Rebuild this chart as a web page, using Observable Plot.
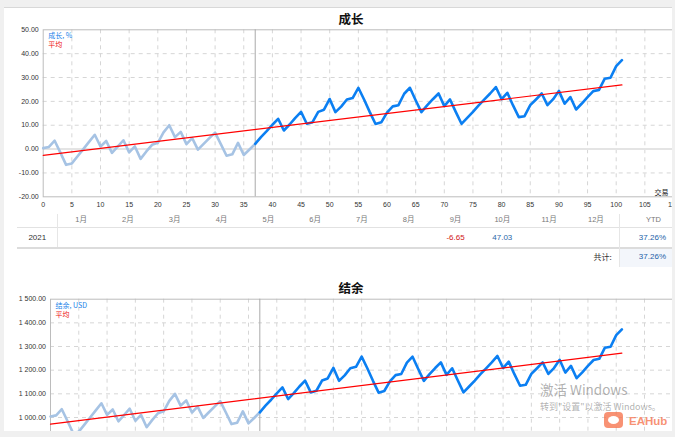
<!DOCTYPE html>
<html><head><meta charset="utf-8">
<script src="https://cdn.jsdelivr.net/npm/d3@7"></script>
<script src="https://cdn.jsdelivr.net/npm/@observablehq/plot@0.6"></script>
<style>
html,body{margin:0;padding:0;background:#f0f0f0;width:675px;height:437px;overflow:hidden;font-family:"Liberation Sans","Noto Sans CJK SC",sans-serif;}
#topline{position:absolute;left:4px;top:7px;width:668px;height:1px;background:#d8d8d8}
#panel{position:absolute;left:4px;top:8px;width:668px;height:423px;background:#fff;overflow:hidden}
#inner{position:absolute;left:-4px;top:-8px;width:680px;height:440px}
#overlay{position:absolute;left:0;top:0;width:675px;height:437px}
.t{position:absolute;white-space:nowrap;line-height:1}
.bx{position:absolute}
.hl{position:absolute;height:1px;background:#e2e2e2}
.vl{position:absolute;width:1px;background:#e6e6e6}
svg{position:absolute;left:0}
</style></head>
<body>
<div id="topline"></div>
<div id="panel"><div id="inner"></div></div>
<div id="overlay"></div>
<script>
// ---------- data ----------
const growth = [0.4,0.9,3.5,-1.5,-6.6,-6.0,-3.0,0.0,3.0,6.0,
  1.1,3.4,-1.6,1.0,3.7,-1.4,1.1,-4.1,-1.0,1.8,
  2.6,7.0,10.0,5.0,7.2,2.1,4.6,-0.2,2.2,4.6,
  6.9,2.1,-2.8,-2.2,2.6,-2.5,-0.2,2.2,5.0,7.5,
  10.2,12.7,7.8,10.3,13.1,15.6,10.6,11.3,15.6,16.5,
  21.0,15.5,17.8,20.8,21.4,25.7,20.8,15.5,10.5,11.2,
  15.3,17.9,18.4,23.2,25.7,20.5,15.5,18.3,20.9,23.3,
  18.0,20.8,15.6,10.6,13.1,15.6,18.3,20.8,23.3,26.0,
  20.9,23.6,18.3,13.4,13.8,18.4,20.8,23.3,18.4,20.9,
  24.4,19.0,21.8,16.6,19.1,21.8,24.3,24.8,29.5,29.9,
  34.8,37.26];
const balance = [1004,1009,1035,985,934,940,970,1000,1030,1060,
  1011,1034,984,1010,1037,986,1011,959,990,1018,
  1026,1070,1100,1050,1072,1021,1046,998,1022,1046,
  1069,1021,972,978,1026,975,998,1022,1050,1075,
  1102,1127,1078,1103,1131,1156,1106,1113,1156,1165,
  1210,1155,1178,1208,1214,1257,1208,1155,1105,1112,
  1153,1179,1184,1232,1257,1205,1155,1183,1209,1233,
  1180,1208,1156,1106,1131,1156,1183,1208,1233,1260,
  1209,1236,1183,1134,1138,1184,1208,1233,1184,1209,
  1244,1190,1218,1166,1191,1218,1243,1248,1295,1299,
  1348,1372.6];
const splitTrade = 37;                 // history / recent boundary
const avgX = [0, 101];
const growthAvg = [-2.6, 26.9];
const balanceAvg = [972, 1272];
const xTicks = [0,5,10,15,20,25,30,35,40,45,50,55,60,65,70,75,80,85,90,95,100,105,110];
const growthTicks = [-20,-10,0,10,20,30,40,50];
const balanceTicks = [1000,1100,1200,1300,1400,1500];   // labels visible in the picture
const balanceGrid = [900,1000,1100,1200,1300,1400];
const months = ["1月","2月","3月","4月","5月","6月","7月","8月","9月","10月","11月","12月"];
const year = "2021";
const monthValues = [null,null,null,null,null,null,null,null,-6.65,47.03,null,null];
const ytdLabel = "YTD";
const ytdValue = "37.26%";
const totalLabel = "共计:";
const totalValue = "37.26%";

// ---------- helpers ----------
const inner = document.getElementById("inner");
const overlay = document.getElementById("overlay");
function txt(s, x, y, css, align, parent) {
  const d = document.createElement("div");
  d.className = "t";
  d.textContent = s;
  d.style.left = x + "px"; d.style.top = y + "px";
  const tx = align === "right" ? "-100%" : align === "left" ? "0" : "-50%";
  d.style.transform = `translate(${tx},-50%)`;
  Object.assign(d.style, css || {});
  (parent || inner).appendChild(d);
  return d;
}
function box(cls, x, y, w, h, bg) {
  const d = document.createElement("div");
  d.className = cls;
  Object.assign(d.style, {left: x + "px", top: y + "px", width: w + "px", height: h + "px"});
  if (bg) d.style.background = bg;
  inner.appendChild(d);
}

function chart({values, avg, yDomain, yTicks, yGrid, yFmt, legend, showX, marginLeft, marginRight, marginTop, height, top}) {
  const pts = values.map((v, i) => ({x: i, y: v}));
  const older = pts.filter(d => d.x <= splitTrade);
  const recent = pts.filter(d => d.x >= splitTrade);
  const avgPts = avgX.map((x, i) => ({x, y: avg[i]}));
  const vGrid = xTicks.filter(t => t > 0 && t < 110);
  const svg = Plot.plot({
    width: 680, height,
    marginLeft, marginRight, marginTop, marginBottom: 18.7,
    x: {domain: [0, 110]},
    y: {domain: yDomain},
    style: {fontFamily: "Liberation Sans", fontSize: "7px", color: "#333", background: "transparent", overflow: "visible"},
    marks: [
      Plot.ruleX(vGrid, {stroke: "#d6d6d6", strokeDasharray: "4,4"}),
      Plot.ruleY(yGrid, {stroke: "#d6d6d6", strokeDasharray: "4,4"}),
      yDomain[0] < 0 ? Plot.ruleY([0], {stroke: "#e4e4e4", strokeWidth: 2}) : null,
      Plot.frame({stroke: "#bcbcbc"}),
      Plot.ruleX([splitTrade], {stroke: "#a9a9a9"}),
      Plot.line(older, {x: "x", y: "y", stroke: "#a6c3e4", strokeWidth: 2.6}),
      Plot.line(recent, {x: "x", y: "y", stroke: "#0b7ff2", strokeWidth: 2.6}),
      Plot.line(avgPts, {x: "x", y: "y", stroke: "#ff0000", strokeWidth: 1.2}),
      showX ? Plot.axisX(xTicks, {tickSize: 0, tickPadding: 5, label: null, tickFormat: d => String(d)}) : null,
      Plot.axisY(yTicks, {tickSize: 0, tickPadding: 4.5, label: null, tickFormat: yFmt}),
      Plot.text([legend], {frameAnchor: "top-left", dx: 5, dy: 3.5, fill: "#1a7fe8", fontSize: 7, fontFamily: "Noto Sans CJK SC"}),
      Plot.text(["平均"], {frameAnchor: "top-left", dx: 5, dy: 12.5, fill: "#ee1111", fontSize: 7, fontFamily: "Noto Sans CJK SC"}),
      showX ? Plot.text(["交易"], {frameAnchor: "bottom-right", dx: -5, dy: -2, fill: "#222", fontSize: 7, fontFamily: "Noto Sans CJK SC"}) : null
    ]
  });
  svg.style.top = top + "px";
  inner.appendChild(svg);
}

// ---------- top chart ----------
txt("成长", 351, 19, {fontSize: "12.5px", fontWeight: "bold", fontFamily: "Noto Sans CJK SC", color: "#111"});
chart({values: growth, avg: growthAvg, yDomain: [-20, 50], yTicks: growthTicks,
  yGrid: [-10, 10, 20, 30, 40],
  yFmt: d => d.toFixed(2), legend: "成长, %", showX: true,
  marginLeft: 42.7, marginRight: 7, marginTop: 29.3, height: 215, top: 0});

// ---------- table ----------
const colW = 46.8, col0 = 57.7;
box("bx", 619, 248, 60, 19, "#f3f6fb");
box("hl", 17, 227, 660, 1);
box("hl", 17, 247, 660, 1.5, "#dcdcdc");
box("vl", 57, 214, 1, 33);
box("vl", 619, 214, 1, 53);
months.forEach((m, i) => txt(m, col0 + (i + 0.5) * colW, 220, {fontSize: "7.5px", color: "#777", fontFamily: "Liberation Sans,Noto Sans CJK SC"}));
txt(ytdLabel, 661, 220, {fontSize: "7.5px", color: "#777"}, "right");
txt(year, 37.3, 237.5, {fontSize: "8px", color: "#333"});
monthValues.forEach((v, i) => {
  if (v == null) return;
  txt(v.toFixed(2), col0 + (i + 0.5) * colW, 237.5, {fontSize: "8px", color: v < 0 ? "#d01414" : "#2a67a8"});
});
txt(ytdValue, 666, 237.5, {fontSize: "8px", color: "#1d5fa8"}, "right");
txt(totalLabel, 602.5, 257, {fontSize: "8px", color: "#333", fontFamily: "Noto Sans CJK SC"});
txt(totalValue, 666, 257, {fontSize: "8px", color: "#1d5fa8"}, "right");

// ---------- bottom chart ----------
txt("结余", 351, 288.3, {fontSize: "12.5px", fontWeight: "bold", fontFamily: "Noto Sans CJK SC", color: "#111"});
const fmtBal = d => d3.format(",.2f")(d).replace(/,/g, " ");
chart({values: balance, avg: balanceAvg, yDomain: [800, 1500], yTicks: balanceTicks,
  yGrid: balanceGrid, yFmt: fmtBal, legend: "结余, USD", showX: false,
  marginLeft: 50, marginRight: 7.7, marginTop: 28.7, height: 213, top: 270});

// ---------- screenshot overlays ----------
txt("激活 Windows", 540, 389.5, {fontSize: "13.5px", color: "rgba(110,110,110,0.55)", fontFamily: "Noto Sans CJK SC"}, "left", overlay);
txt("转到\"设置\"以激活 Windows。", 540, 406, {fontSize: "9px", color: "rgba(110,110,110,0.55)", fontFamily: "Noto Sans CJK SC"}, "left", overlay);
const logo = document.createElement("div");
Object.assign(logo.style, {position: "absolute", left: "604px", top: "412px", width: "19px", height: "16px", borderRadius: "4px", background: "rgba(245,110,70,0.75)"});
const face = document.createElement("div");
Object.assign(face.style, {position: "absolute", left: "4px", top: "4px", width: "11px", height: "8px", borderRadius: "50%", background: "#fff"});
logo.appendChild(face);
overlay.appendChild(logo);
txt("EAHub", 629, 421.5, {fontSize: "11.5px", fontWeight: "bold", color: "rgba(245,110,70,0.75)", fontFamily: "Liberation Sans"}, "left", overlay);
</script>
</body></html>
